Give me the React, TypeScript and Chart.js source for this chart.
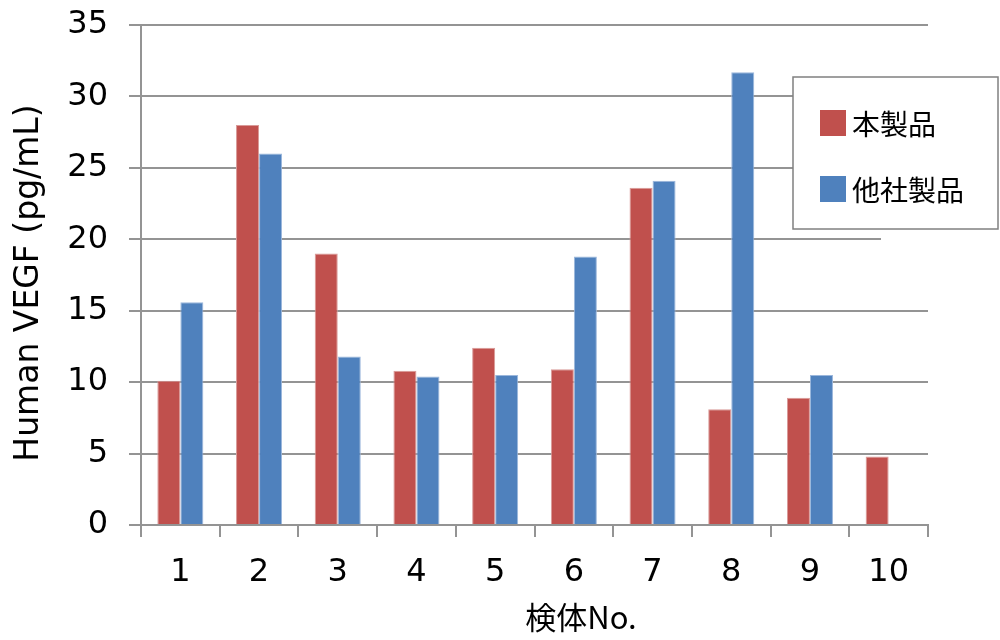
import React, { useEffect, useRef } from "react";
import { Chart, registerables } from "chart.js";

Chart.register(...registerables);

const categories = ["1", "2", "3", "4", "5", "6", "7", "8", "9", "10"];
const seriesNames = ["本製品", "他社製品"];
const ourProduct = [10.1, 28.0, 19.0, 10.8, 12.4, 10.9, 23.6, 8.1, 8.9, 4.8];
const otherProduct = [15.6, 26.0, 11.8, 10.4, 10.5, 18.8, 24.1, 31.7, 10.5, null];
const yTitle = "Human VEGF (pg/mL)";
const xTitle = "検体No.";

const RED = "#C0504D";
const BLUE = "#4F81BD";
const GRID = "#949494";
const NUM_FONT = "'DejaVu Sans', Verdana, sans-serif";
const CJK_FONT = "'Noto Sans CJK JP', 'DejaVu Sans', sans-serif";

const overlayPlugin = {
  id: "overlay",
  afterDraw(chart: any) {
    const ctx = chart.ctx;
    ctx.save();
    // white gap near the legend
    ctx.fillStyle = "#ffffff";
    ctx.fillRect(881, 231, 60, 14);
    // legend box
    ctx.fillStyle = "#ffffff";
    ctx.fillRect(793, 77, 205, 152);
    ctx.strokeStyle = "#808080";
    ctx.lineWidth = 1.5;
    ctx.strokeRect(793, 77, 205, 152);
    const colors = [RED, BLUE];
    const rows = [110, 176];
    ctx.font = `28px ${CJK_FONT}`;
    ctx.textBaseline = "middle";
    ctx.textAlign = "left";
    seriesNames.forEach((name, i) => {
      ctx.fillStyle = colors[i];
      ctx.fillRect(820, rows[i], 26, 26);
      ctx.fillStyle = "#000000";
      ctx.fillText(name, 852, rows[i] + 14);
    });
    // axis titles
    ctx.fillStyle = "#000000";
    ctx.textAlign = "center";
    ctx.textBaseline = "middle";
    ctx.font = `31px ${CJK_FONT}`;
    ctx.fillText(xTitle, 581, 617);
    ctx.save();
    ctx.translate(29, 283);
    ctx.rotate(-Math.PI / 2);
    ctx.font = `33px ${NUM_FONT}`;
    ctx.fillText(yTitle, 0, 0);
    ctx.restore();
    ctx.restore();
  },
};

export default function App() {
  const ref = useRef<HTMLCanvasElement | null>(null);
  useEffect(() => {
    if (!ref.current) return;
    const chart = new Chart(ref.current, {
      type: "bar",
      data: {
        labels: categories,
        datasets: [
          {
            label: seriesNames[0],
            data: ourProduct,
            backgroundColor: RED,
            borderColor: "#D99A98",
            borderWidth: 1,
            categoryPercentage: 0.585,
            barPercentage: 1,
          },
          {
            label: seriesNames[1],
            data: otherProduct as any,
            backgroundColor: BLUE,
            borderColor: "#9BB7DC",
            borderWidth: 1,
            categoryPercentage: 0.585,
            barPercentage: 1,
          },
        ],
      },
      options: {
        responsive: false,
        animation: false,
        devicePixelRatio: 1,
        layout: { padding: { left: 0, top: 25, right: 72, bottom: 0 } },
        plugins: {
          legend: { display: false },
          tooltip: { enabled: false },
        },
        scales: {
          x: {
            grid: {
              display: true,
              drawOnChartArea: false,
              drawTicks: true,
              tickLength: 12,
              color: GRID,
              lineWidth: 2,
              offset: true,
            },
            border: { display: true, color: GRID, width: 2 },
            ticks: {
              color: "#000000",
              font: { family: NUM_FONT, size: 32 },
              padding: 16,
              maxRotation: 0,
            },
            afterFit: (scale: any) => {
              scale.height = 115;
              scale.paddingLeft = 0;
              scale.paddingRight = 0;
            },
          },
          y: {
            min: 0,
            max: 35,
            ticks: {
              stepSize: 5,
              color: "#000000",
              font: { family: NUM_FONT, size: 32 },
              padding: 21,
            },
            grid: {
              color: GRID,
              lineWidth: 2,
              tickLength: 12,
              drawTicks: true,
            },
            border: { display: true, color: GRID, width: 2 },
            afterFit: (scale: any) => {
              scale.width = 141;
              scale.paddingTop = 0;
              scale.paddingBottom = 0;
            },
          },
        },
      },
      plugins: [overlayPlugin],
    });
    return () => chart.destroy();
  }, []);
  return (
    <div style={{ position: "fixed", left: 0, top: 0, width: 1000, height: 640, background: "#fff" }}>
      <canvas ref={ref} width={1000} height={640} style={{ width: 1000, height: 640 }} />
    </div>
  );
}
